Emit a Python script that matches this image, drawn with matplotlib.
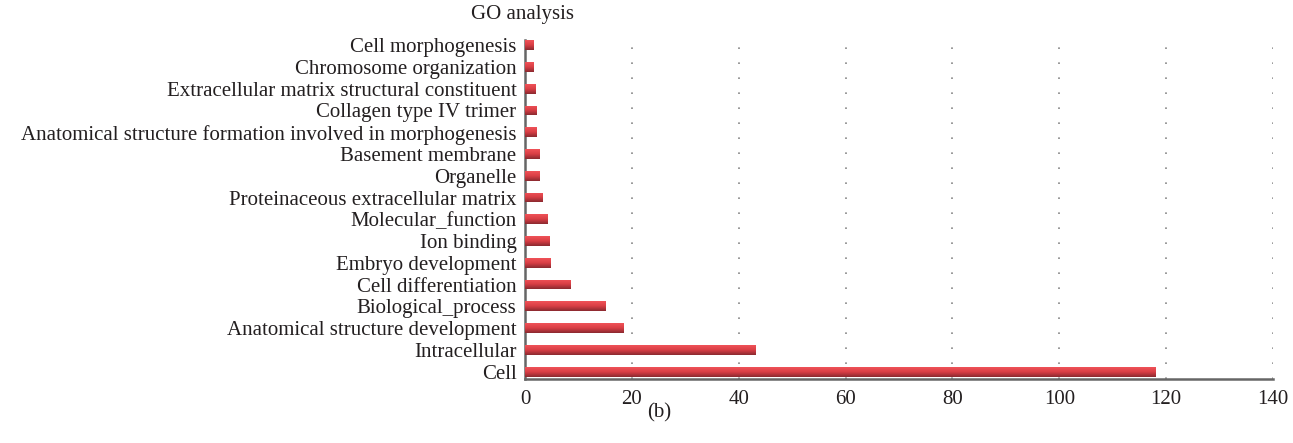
import matplotlib.pyplot as plt
import numpy as np

# Termos GO (de baixo para cima) e contagens
terms = ['Cell', 'Intracellular', 'Anatomical structure development',
         'Biological_process', 'Cell differentiation', 'Embryo development',
         'Ion binding', 'Molecular_function', 'Proteinaceous extracellular matrix',
         'Organelle', 'Basement membrane',
         'Anatomical structure formation involved in morphogenesis',
         'Collagen type IV trimer', 'Extracellular matrix structural constituent',
         'Chromosome organization', 'Cell morphogenesis']
counts = [118, 43.2, 18.4, 15.0, 8.6, 4.7, 4.5, 4.2, 3.2, 2.8, 2.7,
          2.2, 2.2, 2.0, 1.5, 1.5]
xticks = [0, 20, 40, 60, 80, 100, 120, 140]

plt.rcParams['font.family'] = ['Liberation Serif', 'DejaVu Serif']
txt = '#231f20'
fs = 15

fig = plt.figure(figsize=(12.93, 4.43), dpi=100)
ax = fig.add_axes([0.406, 0.1445, 0.5785, 0.765])

y = np.arange(len(terms))
bars = ax.barh(y, counts, height=0.45, color='#d63c43', zorder=3)

# degradê vertical em cada barra (claro em cima, escuro em baixo)
grad = np.linspace(0, 1, 64).reshape(-1, 1)
from matplotlib.colors import LinearSegmentedColormap
cmap = LinearSegmentedColormap.from_list('bar', ['#f05258', '#d83e45', '#8a2a30'])
for b in bars:
    x0, y0 = b.get_x(), b.get_y()
    im = ax.imshow(grad, cmap=cmap, aspect='auto', origin='upper',
                   extent=(x0, x0 + b.get_width(), y0, y0 + b.get_height()),
                   zorder=4, interpolation='bilinear')
    im.set_clip_path(b)

ax.set_xlim(0, 140)
ax.set_ylim(-0.335, 15.23)
ax.set_xticks(xticks)
ax.set_yticks(y)
ax.set_yticklabels(terms)
ax.tick_params(axis='both', length=0, labelsize=fs, colors=txt)
ax.tick_params(axis='x', pad=8)
ax.tick_params(axis='y', pad=6)

ax.grid(axis='x', color='#888888', linestyle=(0, (1, 8)), linewidth=1.2, zorder=1)
for s in ['top', 'right']:
    ax.spines[s].set_visible(False)
for s in ['left', 'bottom']:
    ax.spines[s].set_color('#666666')
    ax.spines[s].set_linewidth(1.8)

fig.text(0.404, 0.968, 'GO analysis', ha='center', va='center', fontsize=fs, color=txt)
fig.text(0.51, 0.067, '(b)', ha='center', va='center', fontsize=fs, color=txt)

fig.savefig('out.png', dpi=100)
